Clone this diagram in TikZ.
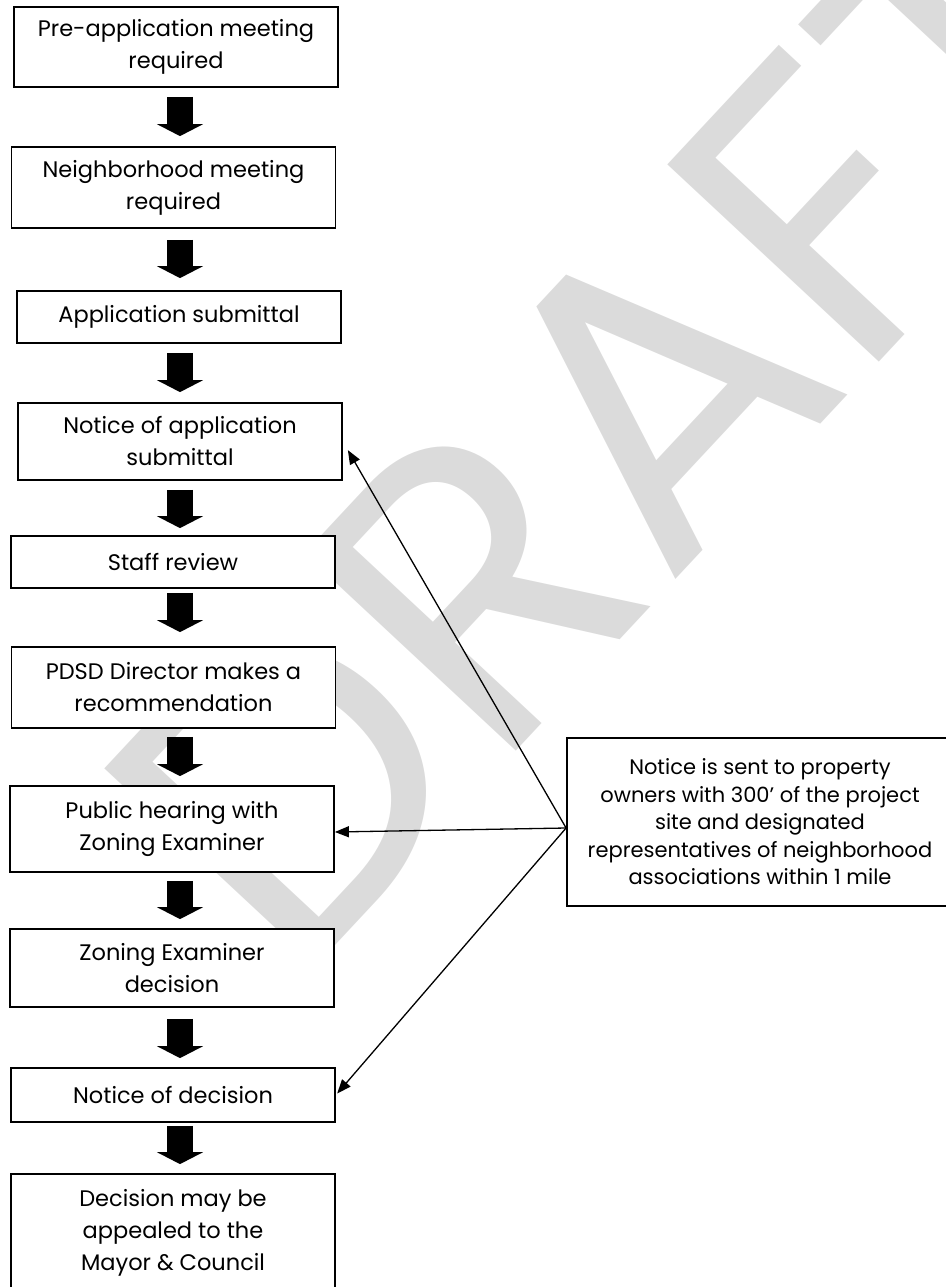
\documentclass[tikz,border=0pt]{standalone}
\usepackage{fontspec}
\setmainfont{Poppins}
\usetikzlibrary{arrows.meta}
\definecolor{wmgray}{gray}{0.86}
\begin{document}
\begin{tikzpicture}[x=1pt,y=-1pt,
		stepbox/.style={draw=black,line width=1.8pt,fill=white,minimum width=324pt,inner sep=0pt,align=center,font=\fontsize{22.5}{32}\selectfont},
		notebox/.style={draw=black,line width=1.8pt,fill=white,minimum width=386pt,minimum height=168pt,inner sep=0pt,align=center,font=\fontsize{21}{27.5}\selectfont},
		blockarrow/.style={line width=26pt,-{Triangle[width=46pt,length=12pt]}},
		notearrow/.style={line width=1.3pt,-{Triangle[width=11pt,length=14pt]}}]
		\useasboundingbox (0,0) rectangle (945,1287);
		\node [text=wmgray,rotate=47,inner sep=0pt,font=\fontsize{415}{415}\selectfont] (wm) at (618,430) {DRAFT};
		\node [stepbox,minimum height=80pt] (b1) at (176,47) {Pre-application meeting\\required};
		\node [stepbox,minimum height=81pt] (b2) at (173.5,187.5) {Neighborhood meeting\\required};
		\node [stepbox,minimum height=52pt] (b3) at (179,317) {Application submittal};
		\node [stepbox,minimum height=77pt] (b4) at (180,441.5) {Notice of application\\submittal};
		\node [stepbox,minimum height=52pt] (b5) at (173,562) {Staff review};
		\node [stepbox,minimum height=81pt] (b6) at (173.5,687.5) {PDSD Director makes a\\recommendation};
		\node [stepbox,minimum height=86pt] (b7) at (172,829) {Public hearing with\\Zoning Examiner};
		\node [stepbox,minimum height=78pt] (b8) at (172,968) {Zoning Examiner\\decision};
		\node [stepbox,minimum height=54pt] (b9) at (173,1095) {Notice of decision};
		\node [stepbox,minimum height=118pt] (b10) at (173,1233) {Decision may be\\appealed to the\\Mayor \& Council};
		\node [notebox] (note) at (760,822) {Notice is sent to property\\owners with 300' of the project\\site and designated\\representatives of neighborhood\\associations within 1 mile};
		\coordinate (ax) at (180,0);
		\foreach \a/\b/\s/\e in {b1/b2/9/10,b2/b3/11/12,b3/b4/9/10,b4/b5/9/7,b5/b6/4/14,b6/b7/8/9,b7/b8/8/9,b8/b9/11/9,b9/b10/3/9}
			\draw [blockarrow,shorten <=\s pt,shorten >=\e pt] (\a.south -| ax) -- (\b.north -| ax);
		\coordinate (fan) at ([yshift=-6pt]note.west);
		\draw [notearrow,shorten >=10pt] (fan) -- (b4.east);
		\draw [notearrow] (fan) -- ([yshift=-3pt]b7.east);
		\draw [notearrow,shorten >=2pt] (fan) -- (b9.east);
\end{tikzpicture}
\end{document}
